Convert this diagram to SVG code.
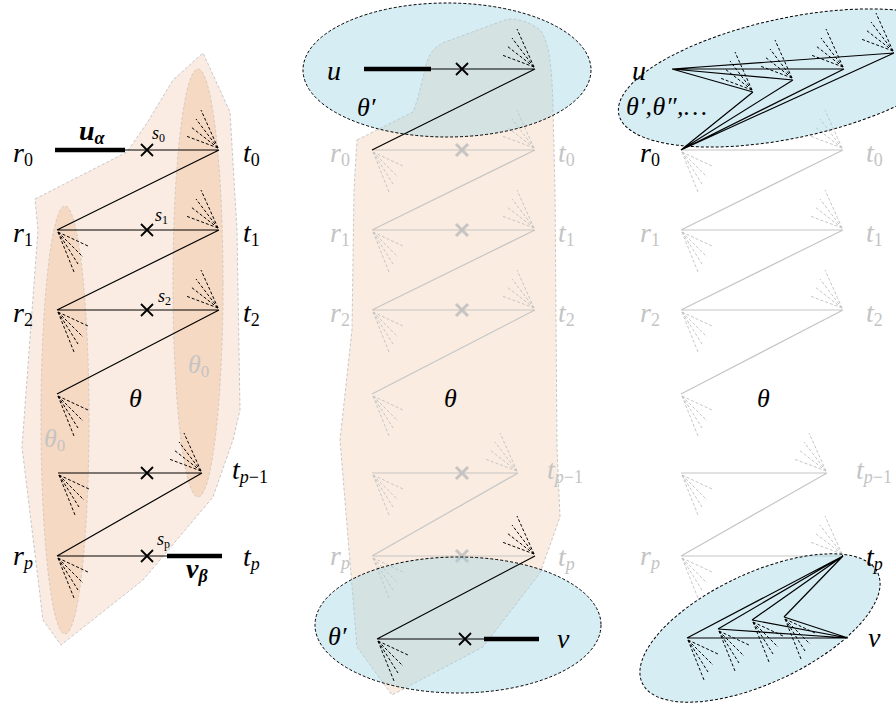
<svg xmlns="http://www.w3.org/2000/svg" xmlns:xlink="http://www.w3.org/1999/xlink" width="896" height="704" viewBox="0 0 896 704">
<style>
.ln{stroke:#000;stroke-width:1.2;fill:none}
.gl{stroke:#c6c6c6;stroke-width:1.2;fill:none}
.th{stroke:#000;stroke-width:4.5;fill:none}
.fb{stroke:#000;stroke-width:1;stroke-dasharray:3 2;fill:none}
.fg{stroke:#c6c6c6;stroke-width:1;stroke-dasharray:3 2;fill:none}
.xb{stroke:#000;stroke-width:1.8;fill:none}
.xg{stroke:#bdbdbd;stroke-width:3;fill:none;opacity:0.85}
.ell{fill:#9fd4e4;fill-opacity:0.42;stroke:#000;stroke-width:1;stroke-dasharray:3 2}
.pch{fill:#faece2;stroke:#c8c8c8;stroke-width:1;stroke-dasharray:3 2}
.pin{fill:#f5d9c3;stroke:#d8c8bc;stroke-width:1;stroke-dasharray:3 2}
.pmid{fill:#f0c8a8;fill-opacity:0.35;stroke:#c8c8c8;stroke-width:1;stroke-dasharray:3 2}
.lb{font-family:"Liberation Serif",serif;font-style:italic;font-size:28px;fill:#000}
.sb{font-size:18px;font-style:normal}
.si{font-size:18px}
.th2{font-family:"Liberation Serif",serif;font-style:italic;font-size:26px;fill:#000}
.sm{font-family:"Liberation Serif",serif;font-style:italic;font-size:18px;fill:#000}
.smsub{font-size:12px;font-style:normal}
.tsub{font-size:17px;font-style:normal}
.gb{fill:#c4c4c4}
</style>
<defs>
<path id="fUL" d="M-1,-2L-18,-40M-1,-2L-23,-31M-1,-2L-28,-23M-1,-2L-33,-14"/>
<path id="fDR" d="M1,2L31,16M1,2L26,27M1,2L21,34M1,2L17,42"/>
<path id="xm" d="M-6,-6L6,6M-6,6L6,-6"/>
</defs>

<!-- LEFT PANEL -->
<g id="left-regions">
<path class="pch" d="M35,199 L127,152 L147,123 L173,80 L203,53 L230,112 L237,230 L240,410 L233,440 L213,497 L143,580 L61,645 L43,620 L22,447 L38,230 Z"/>
<ellipse class="pin" cx="65" cy="420" rx="24" ry="214"/>
<ellipse class="pin" cx="198" cy="283" rx="25" ry="214"/>
</g>
<g id="left-connectors">
<path class="th" d="M55,150H125"/>
<path class="ln" d="M125,150H219 M219,150L57,230 M57,230H219 M219,230L57,310 M57,310H219 M219,310L57,394 M58,473H202 M202,473L57,556 M57,556H167"/>
<path class="th" d="M167,556H222"/>
<use href="#xm" class="xb" x="147" y="150"/>
<use href="#xm" class="xb" x="147" y="230"/>
<use href="#xm" class="xb" x="147" y="310"/>
<use href="#xm" class="xb" x="147" y="473"/>
<use href="#xm" class="xb" x="147" y="556"/>
<use href="#fUL" class="fb" x="219" y="150"/>
<use href="#fUL" class="fb" x="219" y="230"/>
<use href="#fUL" class="fb" x="219" y="310"/>
<use href="#fUL" class="fb" x="202" y="473"/>
<use href="#fDR" class="fb" x="57" y="230"/>
<use href="#fDR" class="fb" x="57" y="310"/>
<use href="#fDR" class="fb" x="57" y="394"/>
<use href="#fDR" class="fb" x="58" y="473"/>
<use href="#fDR" class="fb" x="57" y="556"/>
</g>
<g id="left-labels">
<text class="lb" x="13" y="162">r<tspan class="sb" dy="4">0</tspan></text>
<text class="lb" x="13" y="242">r<tspan class="sb" dy="4">1</tspan></text>
<text class="lb" x="13" y="322">r<tspan class="sb" dy="4">2</tspan></text>
<text class="lb" x="13" y="565">r<tspan class="si" dy="4">p</tspan></text>
<text class="lb" x="243" y="162">t<tspan class="sb" dy="4">0</tspan></text>
<text class="lb" x="243" y="242">t<tspan class="sb" dy="4">1</tspan></text>
<text class="lb" x="243" y="322">t<tspan class="sb" dy="4">2</tspan></text>
<text class="lb" x="232" y="479">t<tspan class="si" dy="4">p</tspan><tspan class="sb">−1</tspan></text>
<text class="lb" x="243" y="566">t<tspan class="si" dy="4">p</tspan></text>
<text class="lb" x="79" y="140" font-weight="bold">u<tspan class="si" dy="4" font-weight="bold">α</tspan></text>
<text class="lb" x="186" y="578" font-weight="bold">v<tspan class="si" dy="4" font-weight="bold">β</tspan></text>
<text class="sm" x="152" y="139">s<tspan class="smsub" dy="3">0</tspan></text>
<text class="sm" x="155" y="221">s<tspan class="smsub" dy="3">1</tspan></text>
<text class="sm" x="158" y="302">s<tspan class="smsub" dy="3">2</tspan></text>
<text class="sm" x="157" y="545">s<tspan class="smsub" dy="3" font-style="italic">p</tspan></text>
<text class="th2" x="129" y="407">θ</text>
<text class="th2 gb" x="188" y="373">θ<tspan class="tsub" dy="4">0</tspan></text>
<text class="th2 gb" x="44" y="447">θ<tspan class="tsub" dy="4">0</tspan></text>
</g>

<!-- MIDDLE PANEL -->
<g id="middle-regions">
<path class="pmid" d="M357,140 L413,112 C418,100 420,88 425,70 C428,55 432,48 445,42 L505,20 C515,17 530,22 540,30 C548,40 552,60 553,110 L555,190 L557,447 L560,517 L540,573 L483,647 L392,695 L357,647 L340,440 L352,330 L354,190 Z"/>
</g>
<g id="middle-ghost">
<path class="gl" d="M372,150H535 M535,150L372,230 M372,230H535 M535,230L372,310 M372,310H535 M535,310L372,394 M372,473H518 M518,473L372,556 M372,556H535"/>
<use href="#xm" class="xg" x="462" y="150"/>
<use href="#xm" class="xg" x="462" y="230"/>
<use href="#xm" class="xg" x="462" y="310"/>
<use href="#xm" class="xg" x="462" y="473"/>
<use href="#xm" class="xg" x="462" y="556"/>
<use href="#fUL" class="fg" x="535" y="150"/>
<use href="#fUL" class="fg" x="535" y="230"/>
<use href="#fUL" class="fg" x="535" y="310"/>
<use href="#fUL" class="fg" x="518" y="473"/>
<use href="#fDR" class="fg" x="372" y="150"/>
<use href="#fDR" class="fg" x="372" y="230"/>
<use href="#fDR" class="fg" x="372" y="310"/>
<use href="#fDR" class="fg" x="372" y="394"/>
<use href="#fDR" class="fg" x="372" y="473"/>
<use href="#fDR" class="fg" x="372" y="556"/>
<text class="lb gb" x="330" y="162">r<tspan class="sb" dy="4">0</tspan></text>
<text class="lb gb" x="330" y="242">r<tspan class="sb" dy="4">1</tspan></text>
<text class="lb gb" x="330" y="322">r<tspan class="sb" dy="4">2</tspan></text>
<text class="lb gb" x="330" y="565">r<tspan class="si" dy="4">p</tspan></text>
<text class="lb gb" x="558" y="162">t<tspan class="sb" dy="4">0</tspan></text>
<text class="lb gb" x="558" y="242">t<tspan class="sb" dy="4">1</tspan></text>
<text class="lb gb" x="558" y="322">t<tspan class="sb" dy="4">2</tspan></text>
<text class="lb gb" x="547" y="479">t<tspan class="si" dy="4">p</tspan><tspan class="sb">−1</tspan></text>
<text class="lb gb" x="558" y="566">t<tspan class="si" dy="4">p</tspan></text>
</g>
<g id="middle-top">
<ellipse class="ell" cx="447" cy="70" rx="144" ry="67"/>
<path class="th" d="M364,69H431"/>
<path class="ln" d="M431,69H535 M535,69L372,150"/>
<use href="#xm" class="xb" x="462" y="69"/>
<use href="#fUL" class="fb" x="535" y="69"/>
<text class="lb" x="327" y="80">u</text>
<text class="th2" x="357" y="116">θ′</text>
</g>
<g id="middle-bottom">
<ellipse class="ell" cx="458" cy="625" rx="143" ry="68"/>
<path class="ln" d="M535,556L377,639 M377,639H484"/>
<path class="th" d="M484,639H539"/>
<use href="#xm" class="xb" x="465" y="639"/>
<use href="#fUL" class="fb" x="535" y="556"/>
<use href="#fDR" class="fb" x="377" y="639"/>
<text class="th2" x="328" y="645">θ′</text>
<text class="lb" x="557" y="648">v</text>
</g>
<text class="th2" x="444" y="407">θ</text>

<!-- RIGHT PANEL -->
<g id="right-ghost">
<path class="gl" d="M681,150H843 M843,150L681,230 M681,230H843 M843,230L681,310 M681,310H843 M843,310L681,394 M681,473H827 M827,473L681,556 M681,556H843"/>
<use href="#fUL" class="fg" x="843" y="150"/>
<use href="#fUL" class="fg" x="843" y="230"/>
<use href="#fUL" class="fg" x="843" y="310"/>
<use href="#fUL" class="fg" x="827" y="473"/>
<use href="#fUL" class="fg" x="843" y="556"/>
<use href="#fDR" class="fg" x="681" y="150"/>
<use href="#fDR" class="fg" x="681" y="230"/>
<use href="#fDR" class="fg" x="681" y="310"/>
<use href="#fDR" class="fg" x="681" y="394"/>
<use href="#fDR" class="fg" x="681" y="473"/>
<use href="#fDR" class="fg" x="681" y="556"/>
<text class="lb gb" x="640" y="242">r<tspan class="sb" dy="4">1</tspan></text>
<text class="lb gb" x="640" y="322">r<tspan class="sb" dy="4">2</tspan></text>
<text class="lb gb" x="640" y="565">r<tspan class="si" dy="4">p</tspan></text>
<text class="lb gb" x="866" y="162">t<tspan class="sb" dy="4">0</tspan></text>
<text class="lb gb" x="866" y="242">t<tspan class="sb" dy="4">1</tspan></text>
<text class="lb gb" x="866" y="322">t<tspan class="sb" dy="4">2</tspan></text>
<text class="lb gb" x="856" y="479">t<tspan class="si" dy="4">p</tspan><tspan class="sb">−1</tspan></text>
</g>
<g id="right-top">
<ellipse class="ell" cx="0" cy="0" rx="175" ry="60" transform="translate(790,78) rotate(-12)"/>
<path class="ln" d="M672,69L753,92 M672,69L793,80 M672,69L844,69 M672,69L894,53 M681,150L753,92 M681,150L793,80 M681,150L844,69 M681,150L894,53"/>
<use href="#fUL" class="fb" x="753" y="92"/>
<use href="#fUL" class="fb" x="793" y="80"/>
<use href="#fUL" class="fb" x="844" y="69"/>
<use href="#fUL" class="fb" x="894" y="53"/>
<text class="lb" x="632" y="80">u</text>
<text class="th2" x="626" y="115" letter-spacing="0.5">θ′,θ″,…</text>
<text class="lb" x="640" y="162">r<tspan class="sb" dy="4">0</tspan></text>
</g>
<g id="right-bottom">
<ellipse class="ell" cx="0" cy="0" rx="130" ry="55" transform="translate(760,628) rotate(-25)"/>
<path class="ln" d="M843,556L687,638 M843,556L718,629 M843,556L752,620 M843,556L784,617 M848,638L687,638 M848,638L718,629 M848,638L752,620 M848,638L784,617"/>
<use href="#fDR" class="fb" x="687" y="638"/>
<use href="#fDR" class="fb" x="718" y="629"/>
<use href="#fDR" class="fb" x="752" y="620"/>
<use href="#fDR" class="fb" x="784" y="617"/>
<text class="lb" x="866" y="566">t<tspan class="si" dy="4">p</tspan></text>
<text class="lb" x="868" y="647">v</text>
</g>
<text class="th2" x="757" y="407">θ</text>
</svg>
